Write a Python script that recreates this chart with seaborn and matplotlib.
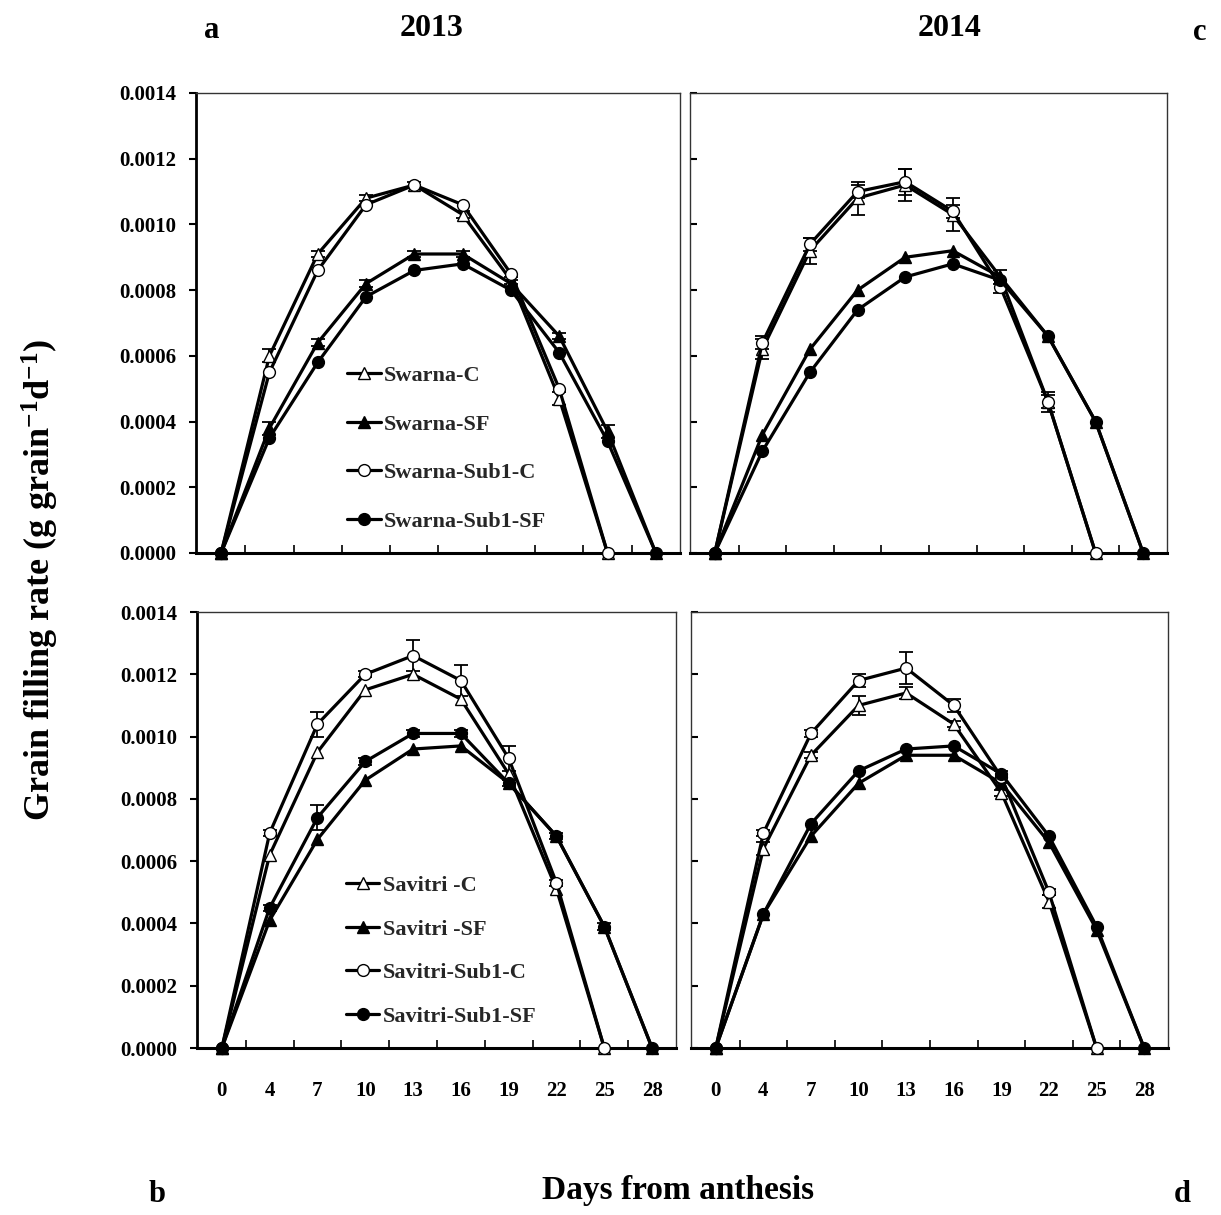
import numpy as np
import pandas as pd
import matplotlib
matplotlib.use("Agg")
import matplotlib.pyplot as plt
import seaborn as sns

# ---------------- data ----------------
days = [0, 4, 7, 10, 13, 16, 19, 22, 25, 28]

# 2013 Swarna
swarna_c_2013 = [0, 0.00060, 0.00091, 0.00108, 0.00112, 0.00103, 0.00083, 0.00047, 0]
swarna_sf_2013 = [0, 0.00038, 0.00064, 0.00082, 0.00091, 0.00091, 0.00082, 0.00066, 0.00037, 0]
swarna_sub1c_2013 = [0, 0.00055, 0.00086, 0.00106, 0.00112, 0.00106, 0.00085, 0.00050, 0]
swarna_sub1sf_2013 = [0, 0.00035, 0.00058, 0.00078, 0.00086, 0.00088, 0.00080, 0.00061, 0.00034, 0]
# 2014 Swarna
swarna_c_2014 = [0, 0.00062, 0.00092, 0.00108, 0.00112, 0.00103, 0.00084, 0.00046, 0]
swarna_sf_2014 = [0, 0.00036, 0.00062, 0.00080, 0.00090, 0.00092, 0.00084, 0.00066, 0.00040, 0]
swarna_sub1c_2014 = [0, 0.00064, 0.00094, 0.00110, 0.00113, 0.00104, 0.00081, 0.00046, 0]
swarna_sub1sf_2014 = [0, 0.00031, 0.00055, 0.00074, 0.00084, 0.00088, 0.00083, 0.00066, 0.00040, 0]
# 2013 Savitri
savitri_c_2013 = [0, 0.00062, 0.00095, 0.00115, 0.00120, 0.00112, 0.00088, 0.00051, 0]
savitri_sf_2013 = [0, 0.00041, 0.00067, 0.00086, 0.00096, 0.00097, 0.00085, 0.00068, 0.00039, 0]
savitri_sub1c_2013 = [0, 0.00069, 0.00104, 0.00120, 0.00126, 0.00118, 0.00093, 0.00053, 0]
savitri_sub1sf_2013 = [0, 0.00045, 0.00074, 0.00092, 0.00101, 0.00101, 0.00085, 0.00068, 0.00039, 0]
# 2014 Savitri
savitri_c_2014 = [0, 0.00064, 0.00094, 0.00110, 0.00114, 0.00104, 0.00082, 0.00047, 0]
savitri_sf_2014 = [0, 0.00043, 0.00068, 0.00085, 0.00094, 0.00094, 0.00085, 0.00066, 0.00038, 0]
savitri_sub1c_2014 = [0, 0.00069, 0.00101, 0.00118, 0.00122, 0.00110, 0.00087, 0.00050, 0]
savitri_sub1sf_2014 = [0, 0.00043, 0.00072, 0.00089, 0.00096, 0.00097, 0.00088, 0.00068, 0.00039, 0]

# standard errors (0 = no visible bar)
err_swarna_c_2013 = [0, 0.00002, 0.00001, 0.00001, 0.00001, 0.00001, 0.00001, 0.00002, 0]
err_swarna_sf_2013 = [0, 0.00002, 0.00001, 0.00001, 0.00001, 0.00001, 0.00001, 0.00001, 0.00002, 0]
err_swarna_c_2014 = [0, 0.00003, 0.00004, 0.00005, 0.00005, 0.00005, 0.00002, 0.00003, 0]
err_swarna_sub1c_2014 = [0, 0.00002, 0.00002, 0.00002, 0.00004, 0.00002, 0.00002, 0.00002, 0]
err_savitri_sub1c_2013 = [0, 0.00001, 0.00004, 0.00001, 0.00005, 0.00005, 0.00004, 0.00001, 0]
err_savitri_sub1sf_2013 = [0, 0.00001, 0.00004, 0.00001, 0.00001, 0.00001, 0.00001, 0.00001, 0.00001, 0]
err_savitri_c_2014 = [0, 0.00002, 0.00001, 0.00003, 0.00002, 0.00001, 0.00001, 0.00002, 0]
err_savitri_sub1c_2014 = [0, 0.00001, 0.00001, 0.00002, 0.00005, 0.00002, 0.00002, 0.00001, 0]

swarna_labels = ["Swarna-C", "Swarna-SF", "Swarna-Sub1-C", "Swarna-Sub1-SF"]
savitri_labels = ["Savitri -C", "Savitri -SF", "Savitri-Sub1-C", "Savitri-Sub1-SF"]

panels = [
    dict(rect=[196, 93, 680, 553], labels=swarna_labels,
         series=[swarna_c_2013, swarna_sf_2013, swarna_sub1c_2013, swarna_sub1sf_2013],
         errs=[err_swarna_c_2013, err_swarna_sf_2013, None, None],
         legend=(0.29, 0.227, 48), first=True, xlabels=False),
    dict(rect=[690, 93, 1167, 553], labels=swarna_labels,
         series=[swarna_c_2014, swarna_sf_2014, swarna_sub1c_2014, swarna_sub1sf_2014],
         errs=[err_swarna_c_2014, None, err_swarna_sub1c_2014, None],
         legend=None, first=False, xlabels=False),
    dict(rect=[197, 612, 676, 1048], labels=savitri_labels,
         series=[savitri_c_2013, savitri_sf_2013, savitri_sub1c_2013, savitri_sub1sf_2013],
         errs=[None, None, err_savitri_sub1c_2013, err_savitri_sub1sf_2013],
         legend=(0.288, 0.222, 43), first=True, xlabels=True),
    dict(rect=[691, 612, 1168, 1048], labels=savitri_labels,
         series=[savitri_c_2014, savitri_sf_2014, savitri_sub1c_2014, savitri_sub1sf_2014],
         errs=[err_savitri_c_2014, None, err_savitri_sub1c_2014, None],
         legend=None, first=False, xlabels=True),
]

markers = ["^", "^", "o", "o"]
faces = ["white", "black", "white", "black"]

# ---------------- style ----------------
sns.set_theme(style="white")
plt.rcParams["font.family"] = ["Liberation Serif", "DejaVu Serif"]
plt.rcParams["font.weight"] = "bold"
plt.rcParams["mathtext.fontset"] = "custom"
plt.rcParams["mathtext.rm"] = "Liberation Serif:bold"
plt.rcParams["mathtext.bf"] = "Liberation Serif:bold"
plt.rcParams["mathtext.default"] = "bf"

W, H = 1221, 1215
fig = plt.figure(figsize=(W / 100, H / 100), dpi=100)
fig.patch.set_facecolor("white")

pos_all = np.arange(len(days))

for p in panels:
    x0, y0, x1, y1 = p["rect"]
    ax = fig.add_axes([x0 / W, 1 - y1 / H, (x1 - x0) / W, (y1 - y0) / H])
    ax.set_facecolor("white")
    for vals, lab, m, fc, err in zip(p["series"], p["labels"], markers, faces, p["errs"]):
        pos = pos_all[:len(vals)]
        df = pd.DataFrame({"pos": pos, "rate": vals})
        sns.lineplot(data=df, x="pos", y="rate", ax=ax, color="black", linewidth=2.3,
                     marker=m, markersize=8.5, markerfacecolor=fc, markeredgecolor="black",
                     markeredgewidth=1.0, label=lab, clip_on=False, zorder=3)
        if err is not None:
            e = np.array(err)
            mask = e > 0
            ax.errorbar(pos[mask], np.array(vals)[mask], yerr=e[mask], fmt="none",
                        ecolor="black", elinewidth=1.3, capsize=5, capthick=1.3, zorder=2)
    ax.set_xlim(-0.52, 9.5)
    ax.set_ylim(0, 0.0014)
    ax.set_xlabel("")
    ax.set_ylabel("")
    ax.set_xticks(pos_all)
    if p["xlabels"]:
        ax.set_xticklabels([str(d) for d in days], fontsize=15, fontweight="bold")
    else:
        ax.set_xticklabels([])
    ax.set_xticks(np.arange(0.5, 9, 1), minor=True)
    ax.tick_params(axis="x", which="major", length=0, pad=24, colors="black")
    ax.tick_params(axis="x", which="minor", direction="in", length=6, width=1.2,
                   bottom=True, color="black")
    yt = np.arange(0, 0.00141, 0.0002)
    ax.set_yticks(yt)
    if p["first"]:
        ax.set_yticklabels([f"{v:.4f}" for v in yt], fontsize=15, fontweight="bold")
        ax.tick_params(axis="y", which="major", direction="out", length=5, width=1.5,
                       left=True, pad=9, colors="black")
        ax.spines["left"].set_linewidth(2.0)
        ax.spines["left"].set_color("black")
    else:
        ax.set_yticklabels([])
        ax.tick_params(axis="y", which="major", direction="in", length=5, width=1.5,
                       left=True, color="black")
        ax.spines["left"].set_linewidth(1.0)
        ax.spines["left"].set_color("#333333")
    ax.spines["bottom"].set_linewidth(2.2)
    ax.spines["bottom"].set_color("black")
    for s in ["top", "right"]:
        ax.spines[s].set_linewidth(1.0)
        ax.spines[s].set_color("#333333")
    if p["legend"] is not None:
        lx, ly, spacing = p["legend"]
        leg = ax.legend(loc="center left", bbox_to_anchor=(lx, ly), frameon=False,
                        prop={"family": "Liberation Serif", "weight": "bold", "size": 16},
                        handlelength=1.5, handletextpad=0.15, borderpad=0,
                        labelspacing=(spacing / (16 * 100 / 72)) - 1.0 + 0.1)
    else:
        lg = ax.get_legend()
        if lg is not None:
            lg.remove()

txt = dict(fontweight="bold", family="Liberation Serif", color="black")
fig.text(432 / W, 1 - 28 / H, "2013", fontsize=23, ha="center", va="center", **txt)
fig.text(950 / W, 1 - 28 / H, "2014", fontsize=23, ha="center", va="center", **txt)
fig.text(212 / W, 1 - 30 / H, "a", fontsize=22, ha="center", va="center", **txt)
fig.text(1200 / W, 1 - 33 / H, "c", fontsize=22, ha="center", va="center", **txt)
fig.text(157 / W, 1 - 1195 / H, "b", fontsize=22, ha="center", va="center", **txt)
fig.text(1182 / W, 1 - 1195 / H, "d", fontsize=22, ha="center", va="center", **txt)
fig.text(678 / W, 1 - 1190 / H, "Days from anthesis", fontsize=24, ha="center", va="center", **txt)
fig.text(40 / W, 1 - 580 / H, "Grain filling rate (g grain$^{-1}$d$^{-1}$)", fontsize=26,
         rotation=90, ha="center", va="center", **txt)

fig.savefig("out.png", dpi=100, facecolor="white")
